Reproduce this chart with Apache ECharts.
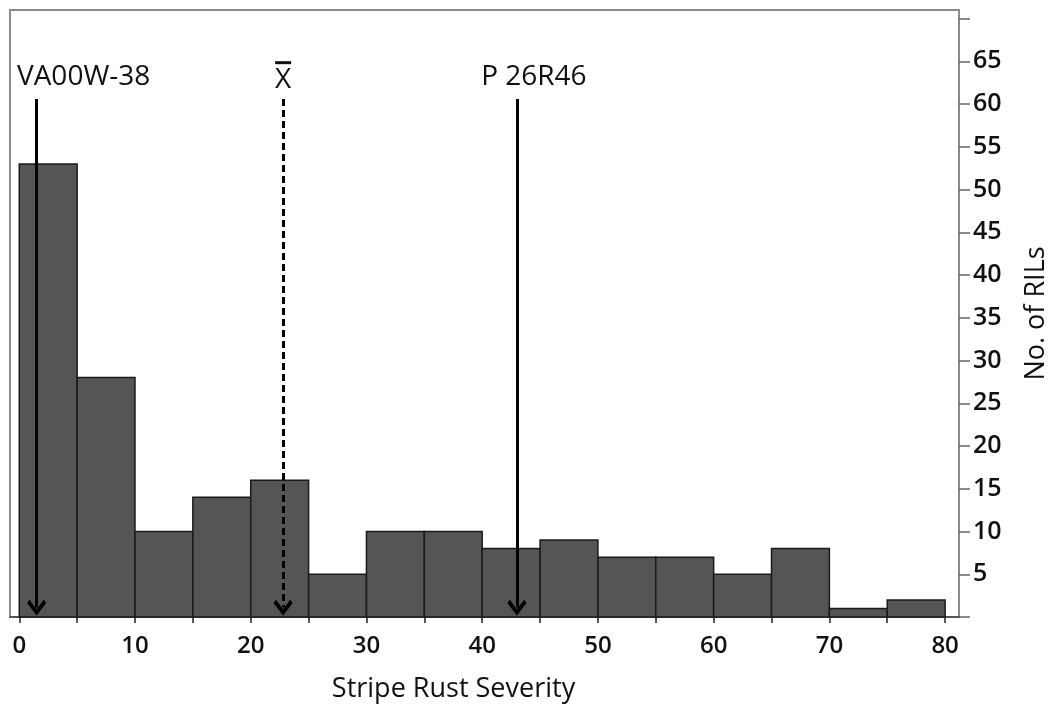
<!doctype html>
<html>
<head>
<meta charset="UTF-8">
<title>Stripe Rust Severity</title>
<script src="https://cdn.jsdelivr.net/npm/echarts@6/dist/echarts.min.js"></script>
<style>
  html, body { margin: 0; padding: 0; background: #fff; }
  #main { width: 1051px; height: 705px; }
</style>
</head>
<body>
<div id="main"></div>
<script type="text/javascript">
// histogram bins (width 5) and counts
var binStarts = [0, 5, 10, 15, 20, 25, 30, 35, 40, 45, 50, 55, 60, 65, 70, 75];
var binWidth = 5;
var counts = [53, 28, 10, 14, 16, 5, 10, 10, 8, 9, 7, 7, 5, 8, 1, 2];

// axis ticks / labels
var xTicks = [0, 5, 10, 15, 20, 25, 30, 35, 40, 45, 50, 55, 60, 65, 70, 75, 80];
var xLabels = [0, 10, 20, 30, 40, 50, 60, 70, 80];
var yTicks = [0, 5, 10, 15, 20, 25, 30, 35, 40, 45, 50, 55, 60, 65, 70];
var yLabels = [5, 10, 15, 20, 25, 30, 35, 40, 45, 50, 55, 60, 65];

// marked values (arrows)
var markerNames = ['VA00W-38', 'X\u0304', 'P 26R46'];
var markerValues = [1.5, 22.8, 43.0];
var arrowTop = 60.6;
var arrowBottom = 1.1;

// open chevron arrowhead, tip at top (rotated by markLine)
var chevron = 'path://M0,0 L10,9 L7.6,11.6 L0,4.6 L-7.6,11.6 L-10,9 Z';
var textFont = '"Open Sans", sans-serif';

var myChart = echarts.init(document.getElementById('main'));

var histData = [];
for (var i = 0; i < counts.length; i++) {
    histData.push([binStarts[i], binStarts[i] + binWidth, counts[i]]);
}

var arrowSeries = markerValues.map(function (v, i) {
    return {
        type: 'line',
        data: [],
        z: 5,
        markLine: {
            silent: true,
            animation: false,
            symbol: ['none', chevron],
            symbolSize: [19, 16],
            lineStyle: { color: '#000', width: 3, type: i === 1 ? [7, 4] : 'solid' },
            itemStyle: { color: '#000' },
            label: { show: false },
            emphasis: { disabled: true },
            data: [[{ coord: [v, arrowTop] }, { coord: [v, arrowBottom] }]]
        }
    };
});

var labelOffsets = [[47, 0], [0, 0], [17, 0]];
var labelSeries = {
    type: 'scatter',
    symbolSize: 0,
    silent: true,
    itemStyle: { opacity: 1 },
    data: markerValues.map(function (v, i) {
        return {
            value: [v, 63.2],
            name: markerNames[i],
            label: { offset: labelOffsets[i] }
        };
    }),
    label: {
        show: true,
        position: 'inside',
        formatter: function (p) {
            // draw the mean symbol as X with a bar above it
            if (p.name === 'X\u0304') return '{bar| }\n{x|X}';
            return p.name;
        },
        color: '#111',
        fontFamily: textFont,
        fontSize: 28,
        rich: {
            bar: { width: 16, height: 3, backgroundColor: '#111', fontSize: 4, lineHeight: 6 },
            x: { color: '#111', fontFamily: textFont, fontSize: 28, lineHeight: 28 }
        }
    }
};

var option = {
    animation: false,
    backgroundColor: '#fff',
    grid: {
        left: 10, right: 92, top: 10, bottom: 88,
        outerBoundsMode: 'none',
        show: true,
        borderColor: '#8a8a8a',
        borderWidth: 2
    },
    xAxis: {
        type: 'value',
        min: -0.8,
        max: 81.2,
        name: 'Stripe Rust Severity',
        nameLocation: 'middle',
        nameGap: 59,
        nameTextStyle: { color: '#111', fontFamily: textFont, fontSize: 27, padding: [0, 62, 0, 0] },
        splitLine: { show: false },
        axisLine: { onZero: false, lineStyle: { color: '#555', width: 2 } },
        axisTick: { customValues: xTicks, length: 6, lineStyle: { color: '#222', width: 1.5 } },
        axisLabel: { customValues: xLabels, color: '#111', fontFamily: textFont, fontWeight: 600, fontSize: 24, margin: 17 }
    },
    yAxis: {
        type: 'value',
        position: 'right',
        min: 0,
        max: 71,
        name: 'No. of RILs',
        nameLocation: 'middle',
        nameGap: 64,
        nameRotate: 90,
        nameTextStyle: { color: '#111', fontFamily: textFont, fontSize: 27 },
        splitLine: { show: false },
        axisLine: { show: true, onZero: false, lineStyle: { color: '#8a8a8a', width: 2 } },
        axisTick: { show: true, customValues: yTicks, length: 11, lineStyle: { color: '#666', width: 1.5 } },
        axisLabel: { customValues: yLabels, color: '#111', fontFamily: textFont, fontWeight: 600, fontSize: 25, margin: 14 }
    },
    series: [{
        type: 'custom',
        data: histData,
        silent: true,
        z: 2,
        renderItem: function (params, api) {
            var p0 = api.coord([api.value(0), 0]);
            var p1 = api.coord([api.value(1), api.value(2)]);
            return {
                type: 'rect',
                shape: { x: p0[0], y: p1[1], width: p1[0] - p0[0], height: p0[1] - p1[1] },
                style: { fill: '#555555', stroke: '#1a1a1a', lineWidth: 1.5 }
            };
        }
    }].concat(arrowSeries).concat([labelSeries])
};

myChart.setOption(option);
</script>
</body>
</html>
